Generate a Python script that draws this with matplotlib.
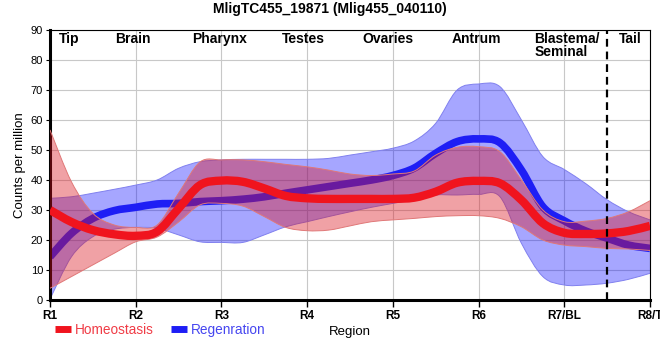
import numpy as np
import matplotlib
matplotlib.use("Agg")
import matplotlib.pyplot as plt
from matplotlib.lines import Line2D
from matplotlib.path import Path
from matplotlib.patches import PathPatch

plt.rcParams["font.family"] = ["Liberation Sans", "DejaVu Sans"]

# readings every quarter region, R1 .. R8
pos = np.linspace(1, 8, 29)

homeo_mid = [30.0, 26.0, 23.3, 21.9, 21.4, 22.8, 30.5, 38.3, 39.8, 39.4,
             37.2, 34.7, 33.9, 33.7, 33.7, 33.7, 33.7, 34.1, 36.1, 39.1,
             39.7, 38.9, 33.3, 25.6, 22.4, 22.0, 22.2, 23.0, 24.7]
homeo_hi = [56.7, 39.4, 28.9, 25.0, 24.2, 25.0, 35.6, 46.0, 46.7, 46.7,
            46.1, 45.2, 44.4, 43.3, 42.0, 41.5, 42.0, 43.0, 48.3, 50.9,
            51.1, 49.4, 40.0, 30.0, 26.1, 26.3, 27.2, 29.4, 33.1]
homeo_lo = [3.9, 7.8, 11.7, 15.6, 19.4, 21.0, 26.0, 31.7, 32.2, 31.3,
            27.8, 24.2, 23.1, 23.3, 24.7, 26.1, 26.7, 27.2, 27.8, 28.1,
            28.1, 27.2, 24.4, 20.0, 18.3, 17.8, 17.2, 17.0, 16.5]

regen_mid = [14.4, 22.2, 27.2, 29.8, 30.9, 32.0, 32.2, 32.8, 33.1, 33.6,
             34.4, 35.6, 36.7, 37.8, 38.9, 40.0, 41.5, 44.0, 48.9, 52.8,
             53.7, 52.4, 43.3, 31.1, 26.4, 23.0, 20.6, 18.3, 17.2]
regen_hi = [33.9, 34.4, 35.6, 36.9, 38.3, 40.0, 43.9, 46.1, 46.7, 46.9,
            46.9, 46.9, 46.9, 47.2, 48.3, 49.4, 50.6, 53.0, 58.9, 70.0,
            72.0, 71.1, 60.0, 47.8, 43.5, 38.8, 33.4, 29.4, 26.7]
regen_lo = [0.3, 14.4, 21.1, 23.6, 24.2, 23.9, 21.7, 19.4, 19.2, 19.2,
            21.7, 24.4, 26.1, 27.8, 29.4, 30.9, 32.2, 33.5, 35.0, 35.0,
            35.2, 34.4, 18.9, 7.8, 5.0, 5.0, 5.6, 6.9, 8.9]

region_ticks = ["R1", "R2", "R3", "R4", "R5", "R6", "R7/BL", "R8/T"]
tissues = ["Tip", "Brain", "Pharynx", "Testes", "Ovaries", "Antrum",
           "Blastema/\nSeminal", "Tail"]
tissue_x = [1.22, 1.97, 2.98, 3.96, 4.94, 5.98, 6.65, 7.77]

red = "#f0141e"
blue = "#1e1ef5"


def curve(x, y):
    """Bezier segments through the points (Catmull-Rom)"""
    p = np.column_stack([x, y]).astype(float)
    ext = np.vstack([p[0], p, p[-1]])
    verts = [p[0]]
    for i in range(len(p) - 1):
        p0, p1, p2, p3 = ext[i], ext[i + 1], ext[i + 2], ext[i + 3]
        verts += [p1 + (p2 - p0) / 6, p2 - (p3 - p1) / 6, p2]
    return np.array(verts)


def line_path(x, y):
    v = curve(x, y)
    codes = [Path.MOVETO] + [Path.CURVE4] * (len(v) - 1)
    return Path(v, codes)


def band_path(x, lo, hi):
    top = curve(x, hi)
    bot = curve(x[::-1], lo[::-1])
    v = np.vstack([top, bot, top[:1]])
    codes = ([Path.MOVETO] + [Path.CURVE4] * (len(top) - 1)
             + [Path.LINETO] + [Path.CURVE4] * (len(bot) - 1)
             + [Path.CLOSEPOLY])
    return Path(v, codes)


def draw_series(ax, lo, mid, hi, fill, edge, color, lw, z):
    lo, mid, hi = np.array(lo), np.array(mid), np.array(hi)
    ax.add_patch(PathPatch(band_path(pos, lo, hi), facecolor=fill,
                           edgecolor="none", zorder=z))
    for b in (lo, hi):
        ax.add_patch(PathPatch(line_path(pos, b), fill=False,
                               edgecolor=edge, lw=0.7, zorder=z))
    ax.add_patch(PathPatch(line_path(pos, mid), fill=False, edgecolor=color,
                           lw=lw, joinstyle="round", capstyle="butt",
                           zorder=z + 1))


fig = plt.figure(figsize=(6.6, 3.6), dpi=100)
ax = fig.add_axes([50 / 660, 60 / 360, 600 / 660, 270 / 360])

draw_series(ax, regen_lo, regen_mid, regen_hi, (0, 0, 1, 0.35), "#8080ee",
            blue, 5.5, 1)
draw_series(ax, homeo_lo, homeo_mid, homeo_hi, (0.86, 0.08, 0.12, 0.4),
            "#e07878", red, 6, 3)

ax.axvline(7.5, color="black", lw=1.6, ls=(0, (3.5, 2.2)), zorder=5)

ax.set_xlim(1, 8)
ax.set_ylim(0, 90)
ax.set_yticks(range(0, 91, 10))
ax.set_xticks(range(1, 9))
ax.set_xticklabels(region_ticks, fontweight="bold")
ax.grid(True, color="#c8c8c8", lw=0.8)
ax.set_axisbelow(True)

for side in ["left", "bottom"]:
    ax.spines[side].set_linewidth(2.2)
for side in ["top", "right"]:
    ax.spines[side].set_linewidth(0.8)
ax.tick_params(axis="y", direction="out", length=3, width=0.8, pad=2,
               labelsize=8)
ax.tick_params(axis="x", direction="out", length=5, width=1, pad=2,
               labelsize=8.5)

for name, x in zip(tissues, tissue_x):
    if "\n" in name:
        ax.text(x, 89.4, name, ha="left", va="top", fontsize=10,
                fontweight="bold", linespacing=0.95, zorder=6)
    else:
        ax.text(x, 89.4, name, ha="center", va="top", fontsize=10,
                fontweight="bold", zorder=6)

fig.text(0.5, 1 - 2 / 360, "MligTC455_19871 (Mlig455_040110)", ha="center",
         va="top", fontsize=10, fontweight="bold")
fig.text(20 / 660, 1 - 165 / 360, "Counts per million", rotation=90,
         ha="center", va="center", fontsize=9.5)
fig.text(350 / 660, 1 - 332 / 360, "Region", ha="center", va="center",
         fontsize=9.5)

handles = [Line2D([], [], color=red, lw=5, solid_capstyle="butt"),
           Line2D([], [], color=blue, lw=5, solid_capstyle="butt")]
fig.legend(handles, ["Homeostasis", "Regenration"], loc="center left",
           bbox_to_anchor=(55 / 660, 1 - 330 / 360), frameon=False, ncol=2,
           fontsize=9.8, handlelength=1.15, handletextpad=0.3,
           columnspacing=1.3, borderaxespad=0, borderpad=0,
           labelcolor=["#f03c46", "#4646f0"])

fig.savefig("out.png", dpi=100)
